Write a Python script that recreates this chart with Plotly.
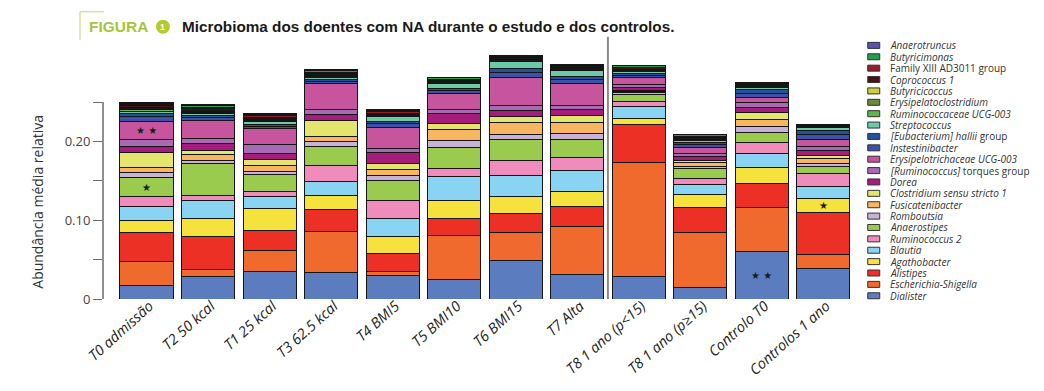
import plotly.graph_objects as go

# ---------------- data ----------------
groups = ["T0 admissão", "T2 50 kcal", "T1 25 kcal", "T3 62.5 kcal", "T4 BMI5", "T5 BMI10",
          "T6 BMI15", "T7 Alta", "T8 1 ano (p<15)", "T8 1 ano (p≥15)", "Controlo T0", "Controlos 1 ano"]

# stacked from bottom to top
dialister       = [0.017, 0.028, 0.035, 0.034, 0.0296, 0.025, 0.049, 0.031, 0.028, 0.0147, 0.0604, 0.0393]
escherichia     = [0.031, 0.010, 0.026, 0.052, 0.0054, 0.056, 0.036, 0.061, 0.1455, 0.070, 0.056, 0.0178]
alistipes       = [0.036, 0.0415, 0.026, 0.0275, 0.023, 0.021, 0.024, 0.025, 0.0485, 0.032, 0.030, 0.053]
agathobacter    = [0.015, 0.023, 0.0275, 0.018, 0.021, 0.023, 0.0205, 0.020, 0.0077, 0.016, 0.021, 0.0173]
blautia         = [0.018, 0.022, 0.015, 0.017, 0.023, 0.030, 0.027, 0.0255, 0.014, 0.0125, 0.0174, 0.0156]
ruminococcus2   = [0.013, 0.007, 0.007, 0.0205, 0.0225, 0.011, 0.019, 0.017, 0.007, 0.0075, 0.0143, 0.0157]
anaerostipes    = [0.024, 0.040, 0.021, 0.0245, 0.026, 0.026, 0.0265, 0.023, 0.009, 0.0135, 0.012, 0.0092]
romboutsia      = [0.007, 0.004, 0.004, 0.007, 0.006, 0.009, 0.0065, 0.007, 0.002, 0.002, 0.0076, 0.0042]
fusicatenibacter= [0.006, 0.008, 0.008, 0.0055, 0.008, 0.0135, 0.015, 0.015, 0.002, 0.005, 0.0092, 0.006]
clostridium     = [0.019, 0.005, 0.007, 0.020, 0.008, 0.0085, 0.0075, 0.008, 0.0015, 0.003, 0.0085, 0.0042]
dorea           = [0.008, 0.009, 0.008, 0.008, 0.013, 0.0125, 0.008, 0.008, 0.003, 0.005, 0.0065, 0.0067]
torques         = [0.009, 0.006, 0.011, 0.007, 0.006, 0.0045, 0.0065, 0.0055, 0.004, 0.003, 0.007, 0.0051]
erysipelotrich  = [0.022, 0.023, 0.021, 0.033, 0.026, 0.021, 0.036, 0.027, 0.0085, 0.0085, 0.0055, 0.0085]
instestinibacter= [0.006, 0.004, 0.003, 0.002, 0.005, 0.003, 0.006, 0.005, 0.003, 0.003, 0.005, 0.0063]
hallii          = [0.004, 0.003, 0.002, 0.002, 0.003, 0.003, 0.0055, 0.0045, 0.003, 0.003, 0.005, 0.0055]
streptococcus   = [0.003, 0.002, 0.004, 0.003, 0.006, 0.006, 0.009, 0.008, 0.0015, 0.003, 0.0035, 0.003]
rumino_ucg003   = [0.002, 0.0015, 0.001, 0.0015, 0.001, 0.001, 0.001, 0.001, 0.001, 0.001, 0.0008, 0.0006]
erysipelatoclos = [0.0015, 0.0015, 0.001, 0.001, 0.001, 0.001, 0.001, 0.001, 0.001, 0.001, 0.0008, 0.0006]
butyricicoccus  = [0.0015, 0.001, 0.001, 0.001, 0.001, 0.001, 0.001, 0.001, 0.001, 0.001, 0.0008, 0.0006]
coprococcus1    = [0.002, 0.002, 0.002, 0.002, 0.0015, 0.0015, 0.0015, 0.001, 0.002, 0.001, 0.0008, 0.0006]
family_xiii     = [0.0015, 0.0015, 0.002, 0.0015, 0.0015, 0.001, 0.001, 0.001, 0.001, 0.001, 0.0008, 0.0006]
butyricimonas   = [0.0015, 0.002, 0.002, 0.002, 0.002, 0.002, 0.001, 0.001, 0.0015, 0.0015, 0.0008, 0.0006]
anaerotruncus   = [0.002, 0.0015, 0.001, 0.001, 0.0015, 0.001, 0.001, 0.001, 0.001, 0.001, 0.0007, 0.0005]

y_tick_vals = [0, 0.05, 0.10, 0.15, 0.20, 0.25]
y_tick_text = ["0", "", "0.10", "", "0.20", ""]

# (legend label html, values, colour) bottom -> top
series = [
    ("<i>Dialister</i>", dialister, "#5B7DC0"),
    ("<i>Escherichia-Shigella</i>", escherichia, "#F06A2E"),
    ("<i>Alistipes</i>", alistipes, "#EC3026"),
    ("<i>Agathobacter</i>", agathobacter, "#F6E23C"),
    ("<i>Blautia</i>", blautia, "#88D4F2"),
    ("<i>Ruminococcus 2</i>", ruminococcus2, "#F08CBC"),
    ("<i>Anaerostipes</i>", anaerostipes, "#9ACA4E"),
    ("<i>Romboutsia</i>", romboutsia, "#C9B2D8"),
    ("<i>Fusicatenibacter</i>", fusicatenibacter, "#F9B660"),
    ("<i>Clostridium sensu stricto 1</i>", clostridium, "#E4E56C"),
    ("<i>Dorea</i>", dorea, "#A61C7C"),
    ("<i>[Ruminococcus]</i> torques group", torques, "#A86AB2"),
    ("<i>Erysipelotrichaceae UCG-003</i>", erysipelotrich, "#C7559E"),
    ("<i>Instestinibacter</i>", instestinibacter, "#3C52A6"),
    ("<i>[Eubacterium] hallii</i> group", hallii, "#24509E"),
    ("<i>Streptococcus</i>", streptococcus, "#6CCBA6"),
    ("<i>Ruminococcaceae UCG-003</i>", rumino_ucg003, "#5DB84A"),
    ("<i>Erysipelatoclostridium</i>", erysipelatoclos, "#6B8A3A"),
    ("<i>Butyricicoccus</i>", butyricicoccus, "#C9D140"),
    ("<i>Coprococcus 1</i>", coprococcus1, "#4E1018"),
    ("Family XIII AD3011 group", family_xiii, "#9A1C2A"),
    ("<i>Butyricimonas</i>", butyricimonas, "#1FA04E"),
    ("<i>Anaerotruncus</i>", anaerotruncus, "#5A52B2"),
]

# ---------------- geometry ----------------
# the page body adds an 8 px margin, so the figure is drawn 8 px smaller and
# reference pixel positions are shifted by OFF
OFF = 8
W, H = 1044 - 2 * OFF, 391 - 2 * OFF
PL, PR, PT, PB = 103 - OFF, 854.25 - OFF, 39.3 - OFF, 299.3 - OFF
YMAX = (PB - PT) / 788.0


def px(x):
    """reference x pixel -> paper coordinate"""
    return (x - OFF - PL) / (PR - PL)


def py(y):
    """reference y pixel -> paper coordinate"""
    return (PB - (y - OFF)) / (PB - PT)


fig = go.Figure()
for name, vals, col in series:
    fig.add_trace(go.Bar(x=groups, y=vals, name=name, marker_color=col,
                         marker_line_color="#151515", marker_line_width=1,
                         showlegend=False))

shapes = []
annotations = []

# y axis line only over 0..0.25
shapes.append(dict(type="line", xref="paper", yref="y", x0=0, x1=0, y0=0, y1=0.25,
                   line=dict(color="#6a6a6a", width=1.5)))
# separator between patients and controls
shapes.append(dict(type="line", xref="x", yref="paper", x0=7.5, x1=7.5, y0=0, y1=py(37),
                   line=dict(color="#8a8a8a", width=2)))

# y axis title
annotations.append(dict(text="Abundância média relativa", xref="paper", yref="paper",
                        x=px(38), y=py(202), textangle=-90, showarrow=False,
                        xanchor="center", yanchor="middle",
                        font=dict(family="Open Sans", size=14, color="#333")))


# significance stars (placed at middle of the relevant segment)
def seg_mid(level, gi):
    base = sum(series[k][1][gi] for k in range(level))
    return base + series[level][1][gi] / 2


stars = [(12, 0, "★ ★"), (6, 0, "★"), (0, 10, "★ ★"), (3, 11, "★")]
for lvl, gi, txt in stars:
    annotations.append(dict(text=txt, x=groups[gi], y=seg_mid(lvl, gi), xref="x", yref="y",
                            showarrow=False, xanchor="center", yanchor="middle",
                            font=dict(family="DejaVu Sans", size=10, color="#1a1a1a")))

# custom legend (top to bottom)
leg_top, leg_step = 45.7, 11.38
for i, (name, vals, col) in enumerate(reversed(series)):
    yc = leg_top + i * leg_step
    shapes.append(dict(type="rect", xref="paper", yref="paper",
                       x0=px(868), x1=px(880), y0=py(yc + 3), y1=py(yc - 3),
                       fillcolor=col, line=dict(color="#333", width=1)))
    annotations.append(dict(text=name, xref="paper", yref="paper", x=px(888), y=py(yc),
                            xanchor="left", yanchor="middle", showarrow=False,
                            font=dict(family="Open Sans", size=10, color="#333")))

# title block
shapes.append(dict(type="line", xref="paper", yref="paper", x0=px(80), x1=px(80),
                   y0=py(12), y1=py(40), line=dict(color="#D4E29C", width=1.5)))
shapes.append(dict(type="line", xref="paper", yref="paper", x0=px(80), x1=px(104),
                   y0=py(12), y1=py(12), line=dict(color="#D4E29C", width=1.5)))
shapes.append(dict(type="circle", xref="paper", yref="paper", x0=px(156), x1=px(170),
                   y0=py(34), y1=py(20), fillcolor="#B3CC2C", line=dict(width=0)))
annotations.append(dict(text="<b>FIGURA</b>", xref="paper", yref="paper", x=px(87), y=py(27),
                        xanchor="left", yanchor="middle", showarrow=False,
                        font=dict(family="Liberation Sans", size=15.5, color="#A6C53A")))
annotations.append(dict(text="<b>1</b>", xref="paper", yref="paper", x=px(163), y=py(27),
                        xanchor="center", yanchor="middle", showarrow=False,
                        font=dict(family="Liberation Sans", size=9, color="white")))
annotations.append(dict(text="<b>Microbioma dos doentes com NA durante o estudo e dos controlos.</b>",
                        xref="paper", yref="paper", x=px(180), y=py(27),
                        xanchor="left", yanchor="middle", showarrow=False,
                        font=dict(family="Liberation Sans", size=15.3, color="#1a1a1a")))

fig.update_layout(
    width=W, height=H, barmode="stack", bargap=0.138,
    margin=dict(l=PL, r=W - PR, t=PT, b=H - PB, pad=0, autoexpand=False),
    plot_bgcolor="white", paper_bgcolor="white",
    shapes=shapes, annotations=annotations, showlegend=False,
    xaxis=dict(range=[-0.707, 11.5], tickvals=groups, ticktext=[f"<i>{g}</i>" for g in groups],
               tickangle=-42, ticks="", showline=False, showgrid=False, zeroline=False,
               automargin=False, ticklabelstandoff=-5, ticklabelshift=3,
               tickfont=dict(family="Open Sans", size=14.5, color="#222")),
    yaxis=dict(range=[0, YMAX], tickvals=y_tick_vals, ticktext=y_tick_text,
               ticks="outside", ticklen=9, tickcolor="#6a6a6a", tickwidth=1.2,
               showline=False, showgrid=False, zeroline=False, automargin=False,
               tickfont=dict(family="Open Sans", size=13, color="#444")),
)

fig.write_html("out.html")
